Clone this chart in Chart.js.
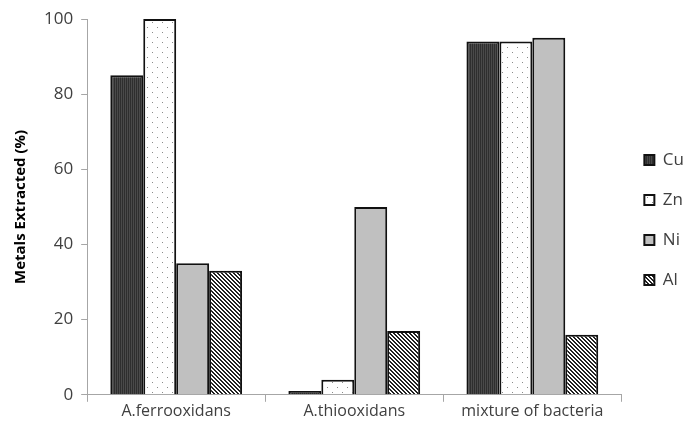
<!DOCTYPE html>
<html>
<head>
<meta charset="utf-8">
<script src="https://cdn.jsdelivr.net/npm/chart.js@4"></script>
<style>
  html, body { margin: 0; padding: 0; background: #fff; }
  #wrap { width: 688px; height: 427px; }
</style>
</head>
<body>
<div id="wrap"><canvas id="myChart" width="688" height="427"></canvas></div>
<script>
"use strict";

const categories = ["A.ferrooxidans", "A.thiooxidans", "mixture of bacteria"];
const cuValues = [85, 1, 94];
const znValues = [100, 4, 94];
const niValues = [35, 50, 95];
const alValues = [33, 17, 16];
const yTicks = [0, 20, 40, 60, 80, 100];

const makePattern = (size, draw) => {
  const c = document.createElement("canvas");
  c.width = size;
  c.height = size;
  const g = c.getContext("2d");
  draw(g, size);
  return c.getContext("2d").createPattern(c, "repeat");
};

// fine vertical stripes, dark
const cuFill = makePattern(2, (g) => {
  g.fillStyle = "#4a4a4a";
  g.fillRect(0, 0, 2, 2);
  g.fillStyle = "#2e2e2e";
  g.fillRect(0, 0, 1, 2);
});

// white with scattered dots
const znFill = makePattern(10, (g) => {
  g.fillStyle = "#ffffff";
  g.fillRect(0, 0, 10, 10);
  g.fillStyle = "#8a8a8a";
  g.fillRect(2, 2, 1, 1);
  g.fillRect(7, 7, 1, 1);
});

const niFill = "#c0c0c0";

// diagonal stripes
const alFill = makePattern(4, (g) => {
  g.fillStyle = "#ffffff";
  g.fillRect(0, 0, 4, 4);
  g.fillStyle = "#222222";
  for (let i = 0; i < 4; i++) {
    g.fillRect(i, i, 1, 1);
    g.fillRect((i + 1) % 4, i, 1, 1);
  }
});

const ctx = document.getElementById("myChart").getContext("2d");

const series = [
  { label: "Cu", data: cuValues, fill: cuFill },
  { label: "Zn", data: znValues, fill: znFill },
  { label: "Ni", data: niValues, fill: niFill },
  { label: "Al", data: alValues, fill: alFill },
];

new Chart(ctx, {
  type: "bar",
  data: {
    labels: categories,
    datasets: series.map((s) => ({
      label: s.label,
      data: s.data,
      backgroundColor: s.fill,
      borderColor: "#111111",
      borderWidth: 2,
      barPercentage: 1,
      categoryPercentage: 0.74,
    })),
  },
  options: {
    responsive: false,
    animation: false,
    layout: {
      padding: { top: 19, right: -6, bottom: 6, left: 8 },
    },
    plugins: {
      legend: {
        position: "right",
        labels: {
          boxWidth: 10,
          boxHeight: 10,
          padding: 23,
          color: "#404040",
          font: { size: 17, family: "'Open Sans', sans-serif" },
        },
      },
      tooltip: { enabled: false },
    },
    scales: {
      x: {
        grid: {
          display: true,
          drawOnChartArea: false,
          drawTicks: true,
          tickLength: 7,
          color: "#a6a6a6",
          offset: true,
        },
        border: { color: "#a6a6a6", width: 1 },
        ticks: {
          color: "#404040",
          padding: 0,
          font: { size: 16, family: "'Open Sans', sans-serif" },
        },
      },
      y: {
        min: 0,
        max: 100,
        afterBuildTicks: (axis) => {
          axis.ticks = yTicks.map((v) => ({ value: v }));
        },
        grid: {
          display: true,
          drawOnChartArea: false,
          tickLength: 6,
          color: "#a6a6a6",
        },
        border: { color: "#a6a6a6", width: 1 },
        ticks: {
          color: "#404040",
          padding: 8,
          font: { size: 17, family: "'Open Sans', sans-serif" },
        },
        title: {
          display: true,
          text: "Metals Extracted (%)",
          color: "#000000",
          padding: { bottom: 6 },
          font: { size: 15, weight: "bold", family: "'Open Sans', sans-serif" },
        },
      },
    },
  },
  plugins: [
    {
      id: "bgColor",
      beforeDraw: (chart) => {
        const { ctx, width, height } = chart;
        ctx.save();
        ctx.fillStyle = "#ffffff";
        ctx.fillRect(0, 0, width, height);
        ctx.restore();
      },
    },
  ],
});
</script>
</body>
</html>
